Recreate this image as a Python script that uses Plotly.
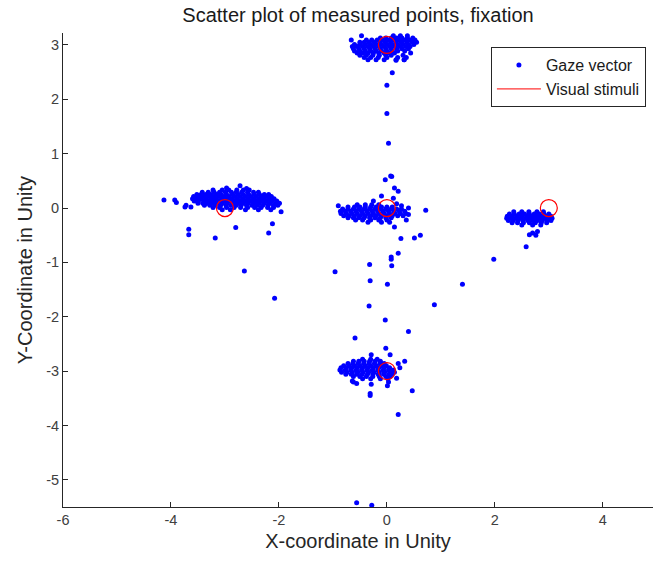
import plotly.graph_objects as go

# ---- Gaze vector clusters: each row = one y level with x positions ----
top_row_y = [3.17, 3.13, 3.09, 3.05, 3.01, 2.97, 2.93, 2.89, 2.85, 2.81, 2.77, 2.73]
top_row_x = [
    [0.12, 0.25, 0.38, -0.47],
    [-0.12, -0.02, 0.08, 0.18, 0.28, 0.38, 0.48],
    [-0.38, -0.28, -0.18, -0.08, 0.02, 0.12, 0.22, 0.32, 0.42, 0.52, -0.66],
    [-0.5, -0.42, -0.33, -0.23, -0.13, -0.03, 0.07, 0.17, 0.27, 0.37, 0.47, 0.55],
    [-0.6, -0.5, -0.4, -0.3, -0.2, -0.1, 0.0, 0.1, 0.2, 0.3, 0.4, 0.5],
    [-0.64, -0.55, -0.45, -0.35, -0.25, -0.15, -0.05, 0.05, 0.15, 0.25, 0.35, 0.43],
    [-0.62, -0.52, -0.42, -0.32, -0.22, -0.12, -0.02, 0.08, 0.18, 0.28, 0.4],
    [-0.6, -0.5, -0.4, -0.3, -0.2, -0.1, 0.0, 0.1, 0.2, 0.33],
    [-0.55, -0.45, -0.35, -0.25, -0.15, -0.05, 0.05, 0.14, 0.44],
    [-0.5, -0.38, -0.26, -0.14, -0.02, 0.08, 0.3],
    [-0.42, -0.3, -0.16, 0.0, 0.2, 0.36],
    [-0.35, -0.2, -0.05, 0.17, 0.32],
]

left_row_y = [0.33, 0.29, 0.25, 0.21, 0.17, 0.13, 0.09, 0.05, 0.01, -0.03]
left_row_x = [
    [-3.22, -3.05, -2.93, -2.78, -2.66, -2.55],
    [-3.42, -3.31, -3.2, -3.1, -2.99, -2.88, -2.79, -2.69, -2.58, -2.47, -2.38],
    [-3.52, -3.44, -3.35, -3.26, -3.16, -3.07, -2.97, -2.86, -2.76, -2.66, -2.56, -2.46, -2.36, -2.27, -2.19],
    [-3.58, -3.49, -3.4, -3.3, -3.21, -3.11, -3.02, -2.92, -2.82, -2.72, -2.62, -2.52, -2.42, -2.32, -2.23, -2.14],
    [-3.6, -3.53, -3.44, -3.35, -3.25, -3.16, -3.06, -2.97, -2.87, -2.77, -2.67, -2.57, -2.47, -2.37, -2.28, -2.18, -2.09],
    [-3.57, -3.49, -3.39, -3.3, -3.2, -3.11, -3.01, -2.92, -2.82, -2.72, -2.62, -2.52, -2.42, -2.33, -2.23, -2.13, -2.04],
    [-3.5, -3.41, -3.33, -3.24, -3.15, -3.05, -2.96, -2.86, -2.76, -2.67, -2.57, -2.47, -2.37, -2.27, -2.17, -2.06, -1.99],
    [-3.38, -3.28, -3.18, -3.08, -2.98, -2.89, -2.79, -2.7, -2.6, -2.5, -2.4, -2.3, -2.2, -2.1, -2.02],
    [-3.22, -3.1, -2.97, -2.83, -2.71, -2.58, -2.45, -2.33, -2.21, -2.1],
    [-3.05, -2.9, -2.62, -2.38, -2.15],
]

center_row_y = [0.06, 0.02, -0.02, -0.06, -0.10, -0.14, -0.18, -0.22, -0.26]
center_row_x = [
    [-0.55, -0.4, -0.28, -0.15],
    [-0.72, -0.6, -0.5, -0.4, -0.3, -0.2, -0.1, 0.0, 0.1],
    [-0.82, -0.72, -0.62, -0.52, -0.42, -0.32, -0.22, -0.12, -0.02, 0.08, 0.18, 0.27],
    [-0.86, -0.77, -0.67, -0.57, -0.47, -0.37, -0.27, -0.17, -0.07, 0.03, 0.13, 0.23, 0.33],
    [-0.85, -0.75, -0.65, -0.55, -0.45, -0.35, -0.25, -0.15, -0.05, 0.05, 0.15, 0.25, 0.35],
    [-0.8, -0.7, -0.6, -0.5, -0.4, -0.3, -0.2, -0.1, 0.0, 0.1, 0.2, 0.3],
    [-0.72, -0.62, -0.52, -0.42, -0.32, -0.22, -0.12, -0.02, 0.08],
    [-0.58, -0.45, -0.3, -0.15, 0.0],
    [-0.35, -0.1, 0.05],
]

right_row_y = [-0.07, -0.11, -0.15, -0.19, -0.23, -0.27, -0.31]
right_row_x = [
    [2.35, 2.5, 2.63, 2.78, 2.9],
    [2.27, 2.36, 2.45, 2.55, 2.64, 2.73, 2.82, 2.91, 3.0],
    [2.23, 2.32, 2.41, 2.5, 2.6, 2.69, 2.78, 2.87, 2.96, 3.04],
    [2.22, 2.3, 2.39, 2.48, 2.57, 2.66, 2.75, 2.84, 2.93, 3.02, 3.06],
    [2.25, 2.34, 2.43, 2.52, 2.61, 2.7, 2.79, 2.88, 2.97, 3.04],
    [2.32, 2.42, 2.53, 2.64, 2.75, 2.86, 2.96],
    [2.5, 2.7, 2.85],
]

bottom_row_y = [-2.78, -2.82, -2.86, -2.90, -2.94, -2.98, -3.02, -3.06, -3.10, -3.14]
bottom_row_x = [
    [-0.45, -0.3, -0.18],
    [-0.62, -0.52, -0.42, -0.32, -0.22, -0.12],
    [-0.72, -0.63, -0.53, -0.43, -0.33, -0.23, -0.13, -0.05],
    [-0.8, -0.7, -0.6, -0.5, -0.4, -0.3, -0.2, -0.1, -0.01],
    [-0.85, -0.75, -0.65, -0.55, -0.45, -0.35, -0.25, -0.15, -0.05, 0.05],
    [-0.87, -0.77, -0.67, -0.57, -0.47, -0.37, -0.27, -0.17, -0.07, 0.03, 0.12],
    [-0.84, -0.74, -0.64, -0.54, -0.44, -0.34, -0.24, -0.14, -0.04, 0.06, 0.14],
    [-0.76, -0.66, -0.56, -0.46, -0.36, -0.26, -0.16, -0.06, 0.04, 0.1],
    [-0.62, -0.5, -0.38, -0.26, -0.14, -0.02, 0.06],
    [-0.45, -0.3, -0.12, 0.02],
]

# ---- isolated gaze points ----
stray_x = [0.1, 0.0, 0.0, 0.03, 0.07, 0.17, 0.32,
           -4.13, -3.93, -3.9, -3.74, -3.72, -3.63, -3.67, -3.67, -3.18, -2.8, -2.12, -2.19, -1.96,
           -2.64, -2.08, -2.97, -2.72, -2.6,
           -0.03, 0.09, 0.14, 0.21, -0.1, -0.25, 0.12, 0.18, 0.27, 0.4, 0.72, 0.4, 0.36, -0.9,
           0.14, 0.26, 0.51, 0.62, 0.21, 0.08, 0.08, 0.09, -0.32, -0.96, -0.31, 0.01, 1.4, 1.98,
           2.58, -0.33, 0.88, -0.03, 0.4, -0.59, -0.02,
           2.64, 2.7, 2.76, 2.79,
           -0.64, -0.56, -0.29, -0.31, -0.31, 0.01, 0.47, 0.21, -0.56, -0.28,
           -0.29, 0.06, 0.21, 0.33, 0.24, 0.18, 0.03, -0.62]
stray_y = [2.49, 2.26, 1.74, 1.19, 0.59, 2.72, 2.73,
           0.15, 0.15, 0.1, 0.02, 0.05, 0.02, -0.39, -0.49, -0.55, -0.36, -0.29, -0.46, -0.07,
           -1.16, -1.66, 0.37, 0.41, 0.36,
           0.52, 0.58, 0.37, 0.31, 0.22, 0.13, 0.18, 0.08, 0.04, 0.0, -0.04, -0.12, -0.22, 0.04,
           -0.35, -0.56, -0.55, -0.5, -0.83, -0.9, -0.94, -1.06, -1.04, -1.17, -1.34, -1.4, -1.4, -0.94,
           -0.71, -1.8, -1.78, -2.06, -2.27, -2.39, -2.58,
           -0.49, -0.46, -0.5, -0.43,
           -3.18, -3.23, -3.24, -3.41, -3.45, -3.27, -3.36, -3.8, -5.42, -5.47,
           -2.7, -2.7, -2.86, -2.82, -2.94, -3.13, -3.2, -3.2]

# ---- visual stimuli centres ----
stim_x = [0, -3, 0, 3, 0]
stim_y = [3, 0, 0, 0, -3]

x_ticks = [-6, -4, -2, 0, 2, 4]
y_ticks = [-5, -4, -3, -2, -1, 0, 1, 2, 3]

gaze_x, gaze_y = [], []
for rows_y, rows_x in [(top_row_y, top_row_x), (left_row_y, left_row_x),
                       (center_row_y, center_row_x), (right_row_y, right_row_x),
                       (bottom_row_y, bottom_row_x)]:
    for yy, xs in zip(rows_y, rows_x):
        for xx in xs:
            gaze_x.append(xx)
            gaze_y.append(yy)
gaze_x += stray_x
gaze_y += stray_y

FONT = "Liberation Sans, Arial, sans-serif"
AX = "#262626"

fig = go.Figure()
fig.add_trace(go.Scatter(
    x=gaze_x, y=gaze_y, mode="markers", name="Gaze vector",
    marker=dict(color="#0000ff", size=5, line=dict(width=0)),
))
fig.add_trace(go.Scatter(
    x=stim_x, y=stim_y, mode="markers", showlegend=False,
    marker=dict(symbol="circle-open", size=17, color="#ff0000", line=dict(width=1.2, color="#ff0000")),
))
fig.add_trace(go.Scatter(
    x=[None], y=[None], mode="lines", name="Visual stimuli",
    line=dict(color="#ff0000", width=1),
))

fig.update_layout(
    width=654, height=569,
    margin=dict(l=63, r=1, t=33, b=62),
    paper_bgcolor="white", plot_bgcolor="white",
    font=dict(family=FONT, color=AX),
    title=dict(text="Scatter plot of measured points, fixation", xref="paper", x=0.5, xanchor="center",
               y=0.974, yanchor="middle", font=dict(size=20, color="#1a1a1a")),
    showlegend=True,
    legend=dict(x=0.988, y=0.97, xanchor="right", yanchor="top",
                bgcolor="white", bordercolor=AX, borderwidth=1, itemwidth=44,
                font=dict(size=16, color="#1a1a1a"), tracegroupgap=0),
)
fig.update_xaxes(
    range=[-6, 4.93], tickvals=x_ticks, ticktext=[str(v) for v in x_ticks],
    ticks="inside", ticklen=5, tickcolor=AX, showline=True, linecolor=AX, linewidth=1,
    showgrid=False, zeroline=False, mirror=False,
    tickfont=dict(size=14.5, color="#404040"),
    title=dict(text="X-coordinate in Unity", font=dict(size=20, color=AX), standoff=6),
)
fig.update_yaxes(
    range=[-5.5, 3.22], tickvals=y_ticks, ticktext=[str(v) for v in y_ticks],
    ticks="inside", ticklen=5, tickcolor=AX, showline=True, linecolor=AX, linewidth=1,
    showgrid=False, zeroline=False, mirror=False,
    tickfont=dict(size=14.5, color="#404040"),
    title=dict(text="Y-Coordinate in Unity", font=dict(size=20, color=AX), standoff=8),
)

fig.write_html("out.html")
